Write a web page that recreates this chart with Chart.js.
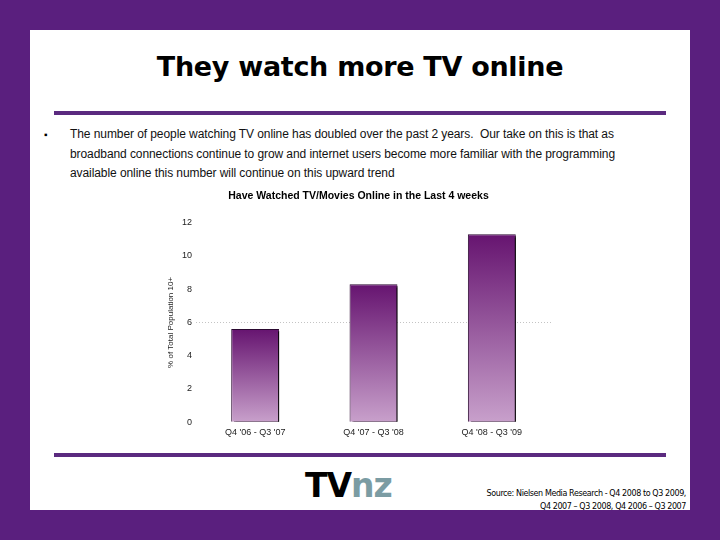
<!DOCTYPE html>
<html>
<head>
<meta charset="utf-8">
<script src="https://cdn.jsdelivr.net/npm/chart.js@4"></script>
<style>
  html, body { margin:0; padding:0; }
  body { width:720px; height:540px; background:#5a1f7e; position:relative; overflow:hidden; font-family:"Liberation Sans", Arial, sans-serif; }
  #panel { position:absolute; left:30px; top:30px; width:660px; height:480px; background:#fff; }
  #title { position:absolute; left:0; top:51px; width:720px; text-align:center; font-family:"DejaVu Sans", Verdana, sans-serif; font-weight:bold; font-size:27px; color:#000; letter-spacing:-0.3px; }
  .rule { position:absolute; left:54px; width:612px; height:4px; background:#5b2a7f; }
  #bullet { position:absolute; left:44px; top:129px; font-size:10px; }
  #text { position:absolute; left:70px; top:125px; font-size:12px; line-height:19.5px; color:#111; white-space:pre; letter-spacing:-0.08px; }
  #chartwrap { position:absolute; left:150px; top:186px; width:420px; height:262px; }
  #logo { position:absolute; left:305px; top:466px; font-family:"DejaVu Sans", sans-serif; font-weight:bold; font-size:33px; letter-spacing:-1px; }
  #source { position:absolute; right:34px; top:487px; text-align:right; font-family:"DejaVu Sans", sans-serif; font-size:8px; line-height:13px; color:#000; white-space:pre; letter-spacing:-0.4px; }
</style>
</head>
<body>
<div id="panel"></div>
<div id="title">They watch more TV online</div>
<div class="rule" style="top:111px"></div>
<div class="rule" style="top:453px"></div>
<div id="bullet">▪</div>
<div id="text">The number of people watching TV online has doubled over the past 2 years.  Our take on this is that as
broadband connections continue to grow and internet users become more familiar with the programming
available online this number will continue on this upward trend</div>
<div id="chartwrap"><canvas id="c" width="420" height="262"></canvas></div>
<div id="logo"><span style="color:#000">TV</span><span style="color:#7b9ca3">nz</span></div>
<div id="source">Source: Nielsen Media Research - Q4 2008 to Q3 2009,
Q4 2007 – Q3 2008, Q4 2006 – Q3 2007</div>
<script>
const categories = ["Q4 '06 - Q3 '07", "Q4 '07 - Q3 '08", "Q4 '08 - Q3 '09"];
const values = [5.6, 8.3, 11.3];
const yTicks = [0, 2, 4, 6, 8, 10, 12];
const chartTitle = "Have Watched TV/Movies Online in the Last 4 weeks";
const yTitle = "% of Total Population 10+";

const shadowPlugin = {
  id: 'barShadow',
  beforeDatasetsDraw(chart) {
    const ctx = chart.ctx;
    ctx.save();
    ctx.shadowColor = '#000';
    ctx.shadowOffsetX = 3;
    ctx.shadowOffsetY = 2;
    ctx.shadowBlur = 0;
  },
  afterDatasetsDraw(chart) { chart.ctx.restore(); }
};

function barGradient(context) {
  const chart = context.chart;
  const area = chart.chartArea;
  if (!area || !chart.scales.y) return '#8a4a90';
  const v = context.raw;
  const top = chart.scales.y.getPixelForValue(v);
  const bottom = chart.scales.y.getPixelForValue(0);
  const g = chart.ctx.createLinearGradient(0, top, 0, bottom);
  g.addColorStop(0, '#661470');
  g.addColorStop(1, '#c8a0cb');
  return g;
}

new Chart(document.getElementById('c'), {
  type: 'bar',
  data: {
    labels: categories,
    datasets: [{
      data: values,
      backgroundColor: barGradient,
      borderColor: '#2a0830',
      borderWidth: 1,
      barPercentage: 0.405,
      categoryPercentage: 1
    }]
  },
  options: {
    responsive: false,
    animation: false,
    layout: { padding: { left: 16, right: 19, top: 0, bottom: 5 } },
    plugins: {
      legend: { display: false },
      tooltip: { enabled: false },
      title: {
        display: true,
        text: chartTitle,
        color: '#000',
        font: { family: 'Liberation Sans', size: 10.5, weight: 'bold' },
        padding: { top: 4, bottom: 20 }
      }
    },
    scales: {
      x: {
        grid: { display: false, drawTicks: false },
        border: { display: false },
        ticks: { color: '#222', font: { family: 'Liberation Sans', size: 9 }, padding: 5 }
      },
      y: {
        min: 0, max: 12,
        afterBuildTicks(scale) { scale.ticks = yTicks.map(v => ({ value: v })); },
        afterFit(scale) { scale.width = 30; },
        grid: {
          drawTicks: false,
          color: (c) => (c.tick && c.tick.value === 6) ? '#c4c4c4' : 'rgba(0,0,0,0)',
          lineWidth: 1
        },
        border: { display: false, dash: [1, 2] },
        ticks: { color: '#222', font: { family: 'Liberation Sans', size: 9 }, padding: 4 },
        title: {
          display: true,
          text: yTitle,
          color: '#222',
          font: { family: 'Liberation Sans', size: 8 },
          padding: { top: 0, bottom: 0 }
        }
      }
    }
  },
  plugins: [shadowPlugin]
});
</script>
</body>
</html>
